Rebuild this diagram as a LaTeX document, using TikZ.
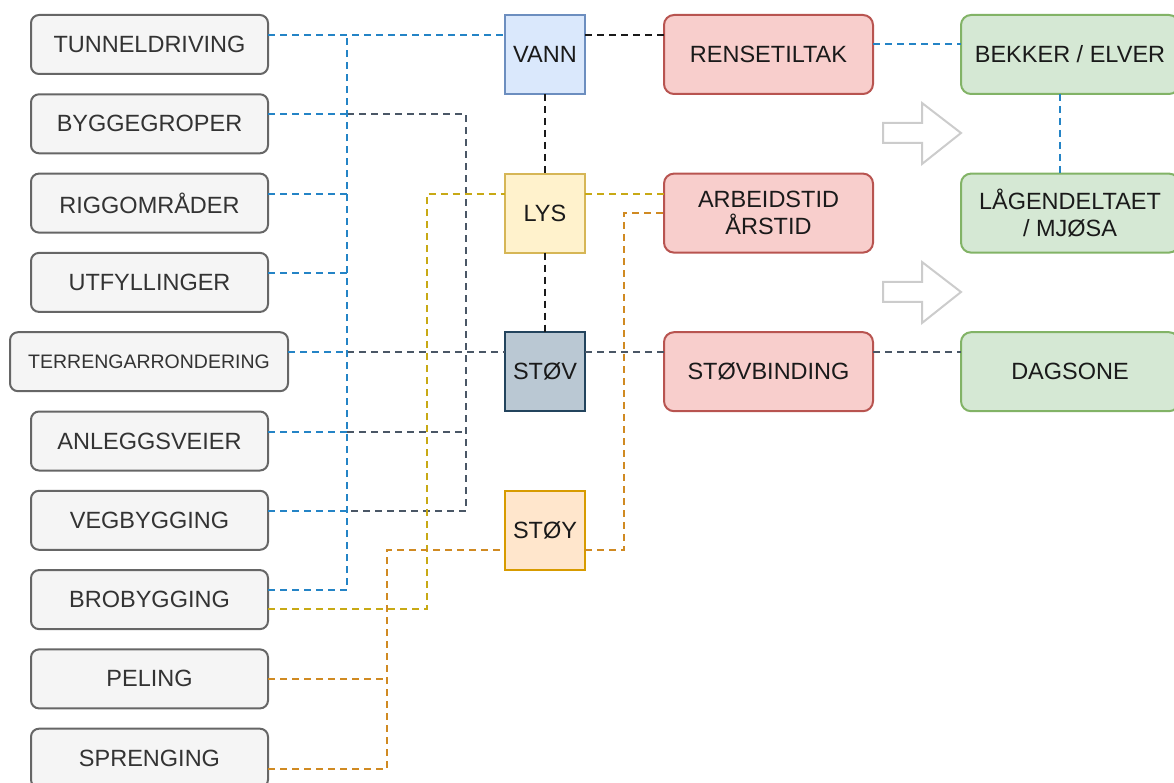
\documentclass[tikz,border=0pt]{standalone}
\usepackage{fontspec}
\setmainfont{Liberation Sans}
\definecolor{lfill}{HTML}{F5F5F5}
\definecolor{ldraw}{HTML}{666666}
\definecolor{ltext}{HTML}{333333}
\definecolor{vfill}{HTML}{DAE8FC}
\definecolor{vdraw}{HTML}{6C8EBF}
\definecolor{yfill}{HTML}{FFF2CC}
\definecolor{ydraw}{HTML}{D6B656}
\definecolor{sfill}{HTML}{BAC8D3}
\definecolor{sdraw}{HTML}{23445D}
\definecolor{ofill}{HTML}{FFE6CC}
\definecolor{odraw}{HTML}{D79B00}
\definecolor{rfill}{HTML}{F8CECC}
\definecolor{rdraw}{HTML}{B85450}
\definecolor{gfill}{HTML}{D5E8D4}
\definecolor{gdraw}{HTML}{82B366}
\definecolor{cblue}{HTML}{2484C6}
\definecolor{cgray}{HTML}{4A5766}
\definecolor{cyel}{HTML}{C8A915}
\definecolor{corg}{HTML}{D08A22}
\definecolor{cblk}{HTML}{1A1A1A}
\definecolor{arrowc}{HTML}{CCCCCC}
\begin{document}
\begin{tikzpicture}[x=1pt,y=-1pt,
  base/.style={line width=2pt, outer sep=0pt, inner sep=0pt, anchor=north west,
    align=center, font=\fontsize{23.5}{27}\selectfont},
  lbox/.style={base, draw=ldraw, fill=lfill, text=ltext, rounded corners=8pt,
    minimum width=237pt, minimum height=59pt},
  sq/.style={base, minimum width=80pt, minimum height=79pt, text=cblk},
  rbox/.style={base, draw=rdraw, fill=rfill, text=cblk, rounded corners=10pt,
    minimum width=209pt, minimum height=79pt},
  gbox/.style={base, draw=gdraw, fill=gfill, text=cblk, rounded corners=10pt,
    minimum width=218pt, minimum height=79pt},
  ln/.style={line width=2pt, dash pattern=on 7pt off 5pt},
  harrow/.style={draw=arrowc, fill=white, line width=2pt, line join=miter}
]
\useasboundingbox (0,0) rectangle (1174,783);

% left column
\node[lbox] (tun) at (31,15) {TUNNELDRIVING};
\node[lbox] (byg) at (31,94.3) {BYGGEGROPER};
\node[lbox] (rig) at (31,173.6) {RIGGOMRÅDER};
\node[lbox] (utf) at (31,252.9) {UTFYLLINGER};
\node[lbox, minimum width=278pt, font=\fontsize{19.5}{23}\selectfont] (ter) at (10,332.2) {TERRENGARRONDERING};
\node[lbox] (anl) at (31,411.5) {ANLEGGSVEIER};
\node[lbox] (veg) at (31,490.8) {VEGBYGGING};
\node[lbox] (bro) at (31,570.1) {BROBYGGING};
\node[lbox] (pel) at (31,649.4) {PELING};
\node[lbox] (spr) at (31,728.7) {SPRENGING};

% middle squares
\node[sq, draw=vdraw, fill=vfill] (vann) at (505,15) {VANN};
\node[sq, draw=ydraw, fill=yfill] (lys) at (505,173.6) {LYS};
\node[sq, draw=sdraw, fill=sfill] (stov) at (505,332.2) {STØV};
\node[sq, draw=odraw, fill=ofill] (stoy) at (505,490.8) {STØY};

% red boxes
\node[rbox] (rens) at (664,15) {RENSETILTAK};
\node[rbox] (arb) at (664,173.6) {ARBEIDSTID\\ÅRSTID};
\node[rbox] (stb) at (664,332.2) {STØVBINDING};

% green boxes
\node[gbox] (bek) at (961,15) {BEKKER / ELVER};
\node[gbox] (lag) at (961,173.6) {LÅGENDELTAET\\/ MJØSA};
\node[gbox] (dag) at (961,332.2) {DAGSONE};

% hollow arrows
\draw[harrow] (883,123) -- (922,123) -- (922,103) -- (961,133) -- (922,164) -- (922,143) -- (883,143) -- cycle;
\draw[harrow] (883,282) -- (922,282) -- (922,262) -- (961,292) -- (922,323) -- (922,302) -- (883,302) -- cycle;

% exit points
\coordinate (tunE) at ([yshift=-20pt]tun.north east);
\coordinate (bygE) at ([yshift=-20pt]byg.north east);
\coordinate (rigE) at ([yshift=-20pt]rig.north east);
\coordinate (utfE) at ([yshift=-20pt]utf.north east);
\coordinate (terE) at ([yshift=-20pt]ter.north east);
\coordinate (anlE) at ([yshift=-20pt]anl.north east);
\coordinate (vegE) at ([yshift=-20pt]veg.north east);
\coordinate (broE) at ([yshift=-20pt]bro.north east);
\coordinate (broY) at ([yshift=-39pt]bro.north east);
\coordinate (pelE) at (pel.east);
\coordinate (sprE) at ([yshift=-40pt]spr.north east);
\coordinate (vannW) at ([yshift=-20pt]vann.north west);
\coordinate (vannE) at ([yshift=-20pt]vann.north east);
\coordinate (lysW) at ([yshift=-20pt]lys.north west);
\coordinate (lysE) at ([yshift=-20pt]lys.north east);
\coordinate (stovW) at ([yshift=-20pt]stov.north west);
\coordinate (stovE) at ([yshift=-20pt]stov.north east);
\coordinate (stoyW) at ([yshift=-59pt]stoy.north west);
\coordinate (stoyE) at ([yshift=-59pt]stoy.north east);
\coordinate (rensW) at ([yshift=-20pt]rens.north west);
\coordinate (rensE) at ([yshift=-29pt]rens.north east);
\coordinate (arbW1) at ([yshift=-20pt]arb.north west);
\coordinate (arbW2) at ([yshift=-39.5pt]arb.north west);
\coordinate (stbW) at ([yshift=-20pt]stb.north west);
\coordinate (stbE) at ([yshift=-20pt]stb.north east);
\coordinate (bekW) at ([yshift=-29pt]bek.north west);
\coordinate (dagW) at ([yshift=-20pt]dag.north west);
% bus lines
\coordinate (bb) at (347,0);
\coordinate (gb) at (466,0);
\coordinate (yb) at (427,0);
\coordinate (ob) at (387,0);
\coordinate (ob2) at (624,0);

% gray (støv)
\draw[ln, cgray] (bygE -| bb) -| (gb |- vegE) -- (vegE -| bb);
\draw[ln, cgray] (terE -| bb) -- (stovW);
\draw[ln, cgray] (anlE -| bb) -- (anlE -| gb);
\draw[ln, cgray] (stovE) -- (stbW);
\draw[ln, cgray] (stbE) -- (dagW);

% yellow (lys)
\draw[ln, cyel] (broY) -| (yb |- lysW) -- (lysW);
\draw[ln, cyel] (lysE) -- (arbW1);

% orange (støy)
\draw[ln, corg] (sprE) -| (ob |- stoyW) -- (stoyW);
\draw[ln, corg] (pelE) -- (pelE -| ob);
\draw[ln, corg] (stoyE) -| (ob2 |- arbW2) -- (arbW2);

% blue (vann)
\draw[ln, cblue] (tunE) -- (vannW);
\draw[ln, cblue] (broE) -| (bb |- tunE);
\foreach \p in {bygE,rigE,utfE,terE,anlE,vegE}
  \draw[ln, cblue] (\p) -- (\p -| bb);
\draw[ln, cblue] (rensE) -- (bekW);
\draw[ln, cblue] ([xshift=-10pt]bek.south) -- ([xshift=-10pt]lag.north);

% black
\draw[ln, cblk] (vannE) -- (rensW);
\draw[ln, cblk] (vann.south) -- (lys.north);
\draw[ln, cblk] (lys.south) -- (stov.north);
\end{tikzpicture}
\end{document}
